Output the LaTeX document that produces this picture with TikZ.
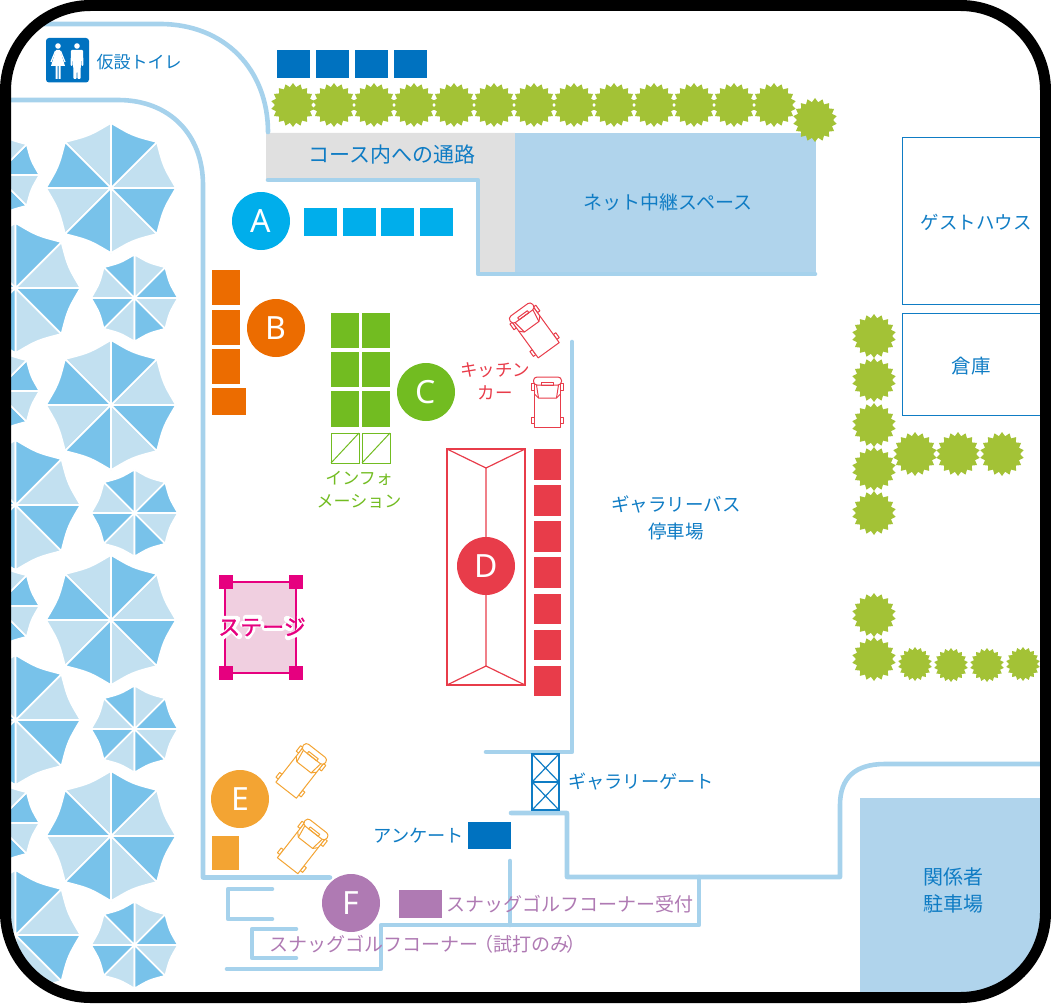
\documentclass[tikz,border=0pt]{standalone}
\usepackage{fontspec}
\setmainfont{Noto Sans CJK JP}
\newfontfamily\latinf{Noto Sans}
\newfontfamily\stageface[FakeBold=1.2]{Noto Sans CJK JP}
\usetikzlibrary{shapes.geometric}
\definecolor{wall}{HTML}{A6D2EC}
\definecolor{spaceblue}{HTML}{B0D4EC}
\definecolor{umbL}{HTML}{C2E0F0}
\definecolor{umbD}{HTML}{78C2EA}
\definecolor{navyb}{HTML}{0072C0}
\definecolor{txtb}{HTML}{0F7CC4}
\definecolor{cyanb}{HTML}{00AEEB}
\definecolor{orgD}{HTML}{EC6C00}
\definecolor{orgL}{HTML}{F3A433}
\definecolor{grn}{HTML}{72BC21}
\definecolor{redd}{HTML}{E83C4A}
\definecolor{mag}{HTML}{E6007F}
\definecolor{magL}{HTML}{F0CFE0}
\definecolor{purp}{HTML}{AF7AB3}
\definecolor{tree}{HTML}{A3C236}
\definecolor{graycor}{HTML}{E0E0E0}
\tikzset{
  wallline/.style={draw=wall,line width=4.6pt,line cap=round,line join=round},
  badge/.style={circle,minimum size=58pt,inner sep=0pt,text=white,font=\latinf\fontsize{32}{32}\selectfont},
  treeshape/.style={star,star points=18,star point ratio=1.22,inner sep=0pt,fill=tree,minimum size=#1},
  treeshape/.default=44pt,
  lbl/.style={inner sep=0pt,align=center,text=txtb,font=\fontsize{#1}{#1}\selectfont},
  lbl/.default=19,
  lblg/.style={lbl=17,text=grn,font=\fontsize{17}{23}\selectfont},
  lblp/.style={lbl=19,text=purp},
  halo/.style={draw=white,line width=6.5pt,line cap=round,line join=round},
}
\newcommand{\umbSector}[4]{%
  \fill[#4,draw=white,line width=1.6pt,line join=bevel] (0,0) -- (#1:#3) .. controls ({(#1+#2)/2}:{0.87*#3}) .. (#2:#3) -- cycle;}
\newcommand{\umbBig}[2]{\begin{scope}[shift={(#1,#2)},yscale=-1]
  \foreach \a in {0,90,180,270}{\umbSector{\a}{\a+45}{65}{umbL}\umbSector{\a+45}{\a+90}{65}{umbD}}
  \foreach \a in {0,90,180,270}{\umbSector{\a-45}{\a}{65}{umbD}}
\end{scope}}
\newcommand{\umbSmall}[2]{\begin{scope}[shift={(#1,#2)},yscale=-1]
  \foreach \a in {0,90,180,270}{\umbSector{\a}{\a+45}{43.5}{umbD}\umbSector{\a+45}{\a+90}{43.5}{umbL}}
\end{scope}}
\newcommand{\truck}[4]{\begin{scope}[shift={(#1,#2)},rotate=#3,draw=#4,line width=1pt,line join=round]
  \draw[fill=white] (-16,-19) rectangle (-13,-12);
  \draw[fill=white] (13,-19) rectangle (16,-12);
  \draw[fill=white] (-16,15) rectangle (-13,21);
  \draw[fill=white] (13,15) rectangle (16,21);
  \draw[fill=white] (-13,-20) -- (-13,25) -- (13,25) -- (13,-20) -- cycle;
  \draw[fill=white,rounded corners=3.5pt] (-14,-25) rectangle (14,-17);
  \draw (-6,-19.5) rectangle (6,-17);
  \draw (-11,-17) -- (-9,-4) -- (9,-4) -- (11,-17);
  \draw (-13,-8) -- (-9,-4) (13,-8) -- (9,-4);
\end{scope}}
\begin{document}
\begin{tikzpicture}[x=1pt,y=-1pt]
\useasboundingbox (0,0) rectangle (1051,1003);
\begin{scope}
\clip[rounded corners=85pt] (5,5) rectangle (1046,997);
% umbrellas
\foreach \y in {175,391,606,823}{\umbSmall{-4}{\y}}
\foreach \y in {288,505,720,935}{\umbBig{15.5}{\y}}
\foreach \y in {188,405,620,836}{\umbBig{111}{\y}}
\foreach \y in {298,513,729,945}{\umbSmall{134.5}{\y}}
% areas
\fill[graycor] (266,133) -- (515,133) -- (515,274) -- (478,274) -- (478,180) -- (266,180) -- cycle;
\fill[spaceblue] (515,133) rectangle (816,276);
\fill[spaceblue] (860,798) rectangle (1051,1003);
% walls
\draw[wallline] (20,24) -- (160,24) .. controls (225,24) and (268,70) .. (268,132);
\draw[wallline] (0,100) -- (118,100) .. controls (170,100) and (203,135) .. (203,185) -- (203,877.5) -- (330,877.5);
\draw[wallline] (268,180) -- (478,180) -- (478,274) -- (815,274);
\draw[wallline] (572,342) -- (572,752) -- (486,752);
\draw[wallline] (511,813) -- (567,813) -- (567,877) -- (840,877) -- (840,805) .. controls (840,778) and (855,764) .. (885,764) -- (1051,764);
\draw[wallline] (699,877) -- (699,925) -- (381,925) -- (381,969) -- (227,969);
\draw[wallline] (510,861) -- (510,925);
\draw[wallline] (272,889) -- (228,889) -- (228,919) -- (272,919);
\draw[wallline] (296,929) -- (252,929) -- (252,958) -- (296,958);
% trees
\foreach \i/\x in {1/293,2/334,3/374,4/414,5/454,6/494,7/534,8/574,9/614,10/654,11/694,12/734,13/774}{\node[treeshape] (t\i) at (\x,105) {};}
\node[treeshape] (t14) at (815,120) {};
\foreach \i/\x/\y in {15/874/336,16/874/380,17/874/425,18/874/469,19/874/513,20/915/454,21/958/454,22/1002/454,23/874/615,24/874/659}{\node[treeshape] (t\i) at (\x,\y) {};}
\foreach \i/\x/\y in {25/915/664,26/951/665,27/987/665,28/1023/664}{\node[treeshape=34pt] (t\i) at (\x,\y) {};}
% buildings
\draw[txtb,line width=0.9pt] (902,137) rectangle (1060,304);
\draw[txtb,line width=0.9pt] (902,313) rectangle (1060,415);
% blue tents top
\foreach \x in {277,316,355,394}{\fill[navyb] (\x,50) rectangle +(33,28);}
% A
\foreach \x in {304,343,381,420}{\fill[cyanb] (\x,208) rectangle +(33,28);}
\node[badge,fill=cyanb] (A) at (261,221) {A};
% B
\fill[orgD] (212,270) rectangle (240,305);
\fill[orgD] (212,310) rectangle (240,345);
\fill[orgD] (212,349) rectangle (240,384);
\fill[orgD] (212,388) rectangle (246,415);
\node[badge,fill=orgD] (B) at (276,328) {B};
% C
\foreach \x in {331,362}{
  \fill[grn] (\x,313) rectangle +(28,35);
  \fill[grn] (\x,352) rectangle +(28,35);
  \fill[grn] (\x,391) rectangle +(28,36);
  \draw[grn,line width=1pt] (\x,433) rectangle +(28,30);
  \draw[grn,line width=1pt] (\x,463) -- +(28,-30);
}
\node[badge,fill=grn] (C) at (426,392) {C};
\node[lblg] (info) at (359,489.5) {インフォ\\メーション};
% trucks
\truck{534}{330}{36}{redd}
\truck{547.5}{402}{0}{redd}
\truck{301.5}{770.5}{-38}{orgL}
\truck{303}{846}{-38}{orgL}
% D
\draw[redd,line width=1.2pt,line join=miter] (447,449) rectangle (525,685);
\draw[redd,line width=1.2pt] (447,449) -- (486,468) -- (525,449) (486,468) -- (486,666) (447,685) -- (486,666) -- (525,685);
\foreach \y/\h in {449/31,485/31,521/31,557/31,594/30,630/30,666/30}{\fill[redd] (534,\y) rectangle +(27,\h);}
\node[badge,fill=redd] (D) at (486,566) {D};
% stage
\draw[mag,fill=magL,line width=1.2pt] (225,582) rectangle (296,673);
\foreach \x/\y in {226/582,296/582,226/673,296/673}{\fill[mag] (\x-7,\y-7) rectangle +(14,14);}
% white halo behind the stage label
\draw[halo] (224,619) -- (237,619) -- (232,628) -- (222,637) (232,629) -- (239,636);
\draw[halo] (246,618) -- (259,618) (243,624) -- (261,624) (252,624) -- (252,630) -- (248,636);
\draw[halo] (265,628) -- (282,628);
\draw[halo] (287,619) -- (291,621) (286,626) -- (290,628) (288,637) -- (298,633) -- (303,622) (300,617) -- (305,617);
\node[inner sep=0pt,text=mag,font=\stageface\fontsize{22}{22}\selectfont] (stage) at (262,627) {ステージ};
% E, F
\node[badge,fill=orgL] (E) at (240,799) {E};
\fill[orgL] (212,836) rectangle (239,870);
\node[badge,fill=purp] (F) at (351,903) {F};
\fill[purp] (399,890) rectangle (442,918);
\fill[navyb] (468,822) rectangle (511,849);
% gate
\draw[txtb,line width=1.2pt] (532,754) rectangle (559,782) (532,782) rectangle (559,810);
\draw[txtb,line width=1.2pt] (532,754) -- (559,782) (559,754) -- (532,782) (532,782) -- (559,810) (559,782) -- (532,810);
% toilet
\fill[navyb,rounded corners=3pt] (46,38) rectangle (89,82.5);
\fill[white] (58,46) circle (2.8);
\fill[white] (77,46) circle (2.8);
\fill[white] (56,50) -- (60,50) -- (65,66) -- (60.5,66) -- (60.5,79) -- (58.5,79) -- (58.5,66) -- (57.5,66) -- (57.5,79) -- (55.5,79) -- (55.5,66) -- (51,66) -- cycle;
\draw[white,line width=1.2pt] (55.5,51) -- (51,62) (60.5,51) -- (65,62);
\fill[white,rounded corners=1pt] (71,50) -- (83,50) -- (83.5,66) -- (81.5,66) -- (81,56) -- (80.5,79) -- (77.5,79) -- (77,66) -- (76.5,79) -- (73.5,79) -- (73,56) -- (72.5,66) -- (70.5,66) -- cycle;
% labels
\node[lbl=17] (toilet) at (139,62) {仮設トイレ};
\node[lbl=21] (course) at (392,155) {コース内への通路};
\node[lbl=19] (net) at (668,202) {ネット中継スペース};
\node[lbl=18.5] (guest) at (976,222) {ゲストハウス};
\node[lbl=19.5] (souko) at (971,366) {倉庫};
\node[inner sep=0pt,align=center,text=redd,font=\fontsize{17.5}{23}\selectfont] (kitchen) at (495,381) {キッチン\\カー};
\node[inner sep=0pt,align=center,text=txtb,font=\fontsize{18.5}{27}\selectfont] (bus) at (676,517.5) {ギャラリーバス\\停車場};
\node[lbl=18.2,anchor=west] (glabel) at (568,782) {ギャラリーゲート};
\node[lbl=18.2,anchor=west] (anq) at (373.5,836) {アンケート};
\node[lblp,anchor=west] (snagr) at (446.5,904) {スナッグゴルフコーナー受付};
\node[lblp,anchor=west] (snag) at (269.5,944) {スナッグゴルフコーナー\kern-4pt（試打のみ\kern-3pt）};
\node[inner sep=0pt,align=center,text=txtb,font=\fontsize{20}{27}\selectfont] (parking) at (953,890.5) {関係者\\駐車場};
\end{scope}
% frame
\draw[black,line width=11pt,rounded corners=85pt] (5.5,5.5) rectangle (1045.5,997.5);
\end{tikzpicture}
\end{document}
